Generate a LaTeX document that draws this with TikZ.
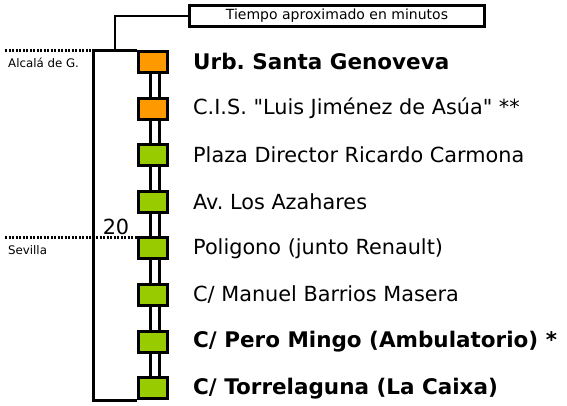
\documentclass[tikz,border=0pt]{standalone}
\usepackage{fontspec}
\setmainfont{DejaVu Sans}
\definecolor{orng}{RGB}{255,153,0}
\definecolor{grn}{RGB}{153,204,0}
\frenchspacing
\begin{document}
\begin{tikzpicture}[x=1pt,y=-1pt,
  stopbox/.style={draw,line width=3pt,minimum width=29pt,minimum height=21pt,inner sep=0pt},
  lbl/.style={anchor=west,inner sep=0pt,font=\fontsize{20.8}{24}\selectfont},
  blbl/.style={lbl,font=\fontsize{21.5}{24}\selectfont\bfseries},
  rail/.style={line width=3pt},
  side/.style={anchor=west,inner sep=0pt,font=\fontsize{11.8}{13}\selectfont},
  dots/.style={line width=3pt,dash pattern=on 2pt off 1.5pt}]
\useasboundingbox (0,0) rectangle (567,405);
% stops
\foreach \i/\c in {1/orng,2/orng,3/grn,4/grn,5/grn,6/grn,7/grn,8/grn}{
  \node[stopbox,fill=\c] (s\i) at (153,{62+(\i-1)*46.6}) {};
}
% rails between stops
\foreach \i [evaluate=\i as \j using int(\i+1)] in {1,...,7}{
  \draw[rail] ([xshift=-2.5pt]s\i.south) -- ([xshift=-2.5pt]s\j.north);
  \draw[rail] ([xshift=6.5pt]s\i.south) -- ([xshift=6.5pt]s\j.north);
}
% labels
\node[blbl] (l1) at (193,61) {Urb. Santa Genoveva};
\node[lbl] (l2) at (193,108.6) {C.I.S. \textquotedbl Luis Jiménez de Asúa\textquotedbl{} **};
\node[lbl] (l3) at (193,155.2) {Plaza Director Ricardo Carmona};
\node[lbl] (l4) at (193,201.8) {Av. Los Azahares};
\node[lbl] (l5) at (193,248.4) {Poligono (junto Renault)};
\node[lbl] (l6) at (193,295) {C/ Manuel Barrios Masera};
\node[blbl] (l7) at (193,341.6) {C/ Pero Mingo (Ambulatorio) *};
\node[blbl] (l8) at (193,388.2) {C/ Torrelaguna (La Caixa)};
% outer frame
\coordinate (L) at (93,200);
\draw[line width=3pt] (s1.north west) -| (L) |- (s8.south west);
% time box
\node[draw,line width=3pt,minimum width=295pt,minimum height=21pt,inner sep=0pt,
  font=\fontsize{14}{16}\selectfont] (tbox) at (337,16) {Tiempo aproximado en minutos};
\coordinate (tc) at (115,50.5);
\draw[line width=1.3pt] (tbox.west) -| (tc);
% zone markers
\coordinate (d1) at (5,50.5);
\coordinate (d1e) at (91,50.5);
\draw[dots] (d1) -- (d1e);
\node[side] (alc) at (8,63) {Alcalá de G.};
\coordinate (d2) at (5,237);
\draw[dots] (d2) -- (s5.west |- d2);
\node[side] (sev) at (8,250) {Sevilla};
\node[inner sep=0pt,font=\fontsize{20.8}{24}\selectfont] (t20) at (116,227) {20};
\end{tikzpicture}
\end{document}
